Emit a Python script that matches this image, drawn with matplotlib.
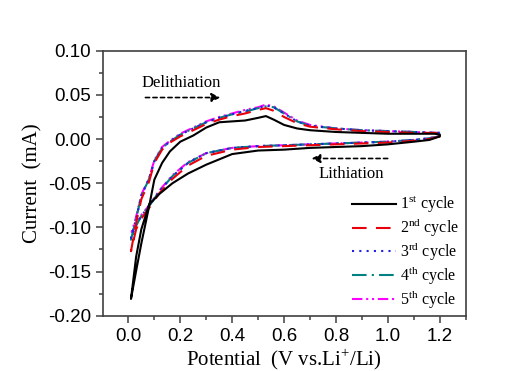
import matplotlib
matplotlib.use("Agg")
import matplotlib.pyplot as plt
from matplotlib.ticker import MultipleLocator

plt.rcParams['mathtext.fontset'] = 'custom'
plt.rcParams['mathtext.rm'] = 'Liberation Serif'

# potential grids (V), anodic sweep (up) and cathodic sweep (down)
v_up = [0.01, 0.03, 0.05, 0.08, 0.10, 0.13, 0.16, 0.20, 0.25, 0.30, 0.35, 0.40,
        0.45, 0.50, 0.53, 0.56, 0.60, 0.65, 0.70, 0.80, 0.90, 1.00, 1.10, 1.18, 1.20]
v_down = [1.20, 1.16, 1.10, 1.00, 0.90, 0.80, 0.70, 0.60, 0.50, 0.40, 0.30, 0.23,
          0.17, 0.12, 0.08, 0.05, 0.03, 0.01]

# currents (mA)
c1_up = [-0.181, -0.149, -0.118, -0.076, -0.046, -0.027, -0.014, -0.003, 0.004, 0.013,
         0.019, 0.020, 0.021, 0.024, 0.026, 0.022, 0.016, 0.012, 0.010, 0.008, 0.007,
         0.006, 0.006, 0.006, 0.005]
c1_down = [0.003, -0.001, -0.003, -0.006, -0.008, -0.009, -0.010, -0.012, -0.013, -0.017,
           -0.029, -0.039, -0.050, -0.062, -0.074, -0.102, -0.133, -0.181]

c2_up = [-0.127, -0.095, -0.068, -0.048, -0.027, -0.012, -0.004, 0.003, 0.010, 0.017,
         0.022, 0.026, 0.029, 0.033, 0.035, 0.032, 0.025, 0.018, 0.014, 0.011, 0.009,
         0.008, 0.007, 0.007, 0.006]
c2_down = [0.003, 0.000, -0.002, -0.004, -0.005, -0.006, -0.007, -0.008, -0.009, -0.012,
           -0.019, -0.030, -0.045, -0.061, -0.078, -0.090, -0.102, -0.127]

c3_up = [-0.112, -0.090, -0.064, -0.045, -0.025, -0.010, -0.003, 0.005, 0.012, 0.019,
         0.024, 0.028, 0.032, 0.035, 0.038, 0.036, 0.029, 0.020, 0.015, 0.012, 0.010,
         0.009, 0.008, 0.007, 0.007]
c3_down = [0.003, 0.001, -0.001, -0.003, -0.004, -0.005, -0.006, -0.007, -0.008, -0.010,
           -0.016, -0.027, -0.042, -0.059, -0.076, -0.087, -0.097, -0.112]

c4_up = [-0.114, -0.090, -0.064, -0.045, -0.025, -0.010, -0.003, 0.005, 0.012, 0.019,
         0.024, 0.028, 0.031, 0.035, 0.037, 0.036, 0.029, 0.020, 0.015, 0.012, 0.010,
         0.009, 0.008, 0.007, 0.007]
c4_down = [0.003, 0.001, -0.001, -0.003, -0.004, -0.005, -0.006, -0.007, -0.008, -0.010,
           -0.016, -0.027, -0.042, -0.059, -0.076, -0.087, -0.098, -0.114]

c5_up = [-0.108, -0.088, -0.063, -0.044, -0.024, -0.009, -0.002, 0.006, 0.013, 0.020,
         0.025, 0.029, 0.033, 0.036, 0.039, 0.037, 0.030, 0.021, 0.016, 0.012, 0.010,
         0.009, 0.008, 0.007, 0.007]
c5_down = [0.003, 0.001, -0.001, -0.003, -0.004, -0.005, -0.006, -0.007, -0.008, -0.010,
           -0.016, -0.026, -0.041, -0.058, -0.075, -0.086, -0.096, -0.108]

labels = [r'1$^{\mathrm{st}}$ cycle', r'2$^{\mathrm{nd}}$ cycle', r'3$^{\mathrm{rd}}$ cycle',
          r'4$^{\mathrm{th}}$ cycle', r'5$^{\mathrm{th}}$ cycle']
colors = ['black', '#e8000b', '#2020e0', '#008080', '#ff00ff']
styles = ['-', (0, (7, 4.5)), (0, (1, 2.5)), (0, (7, 2.5, 1, 2.5)), (0, (5, 1.8, 1, 1.8, 1, 1.8))]

ups = [c1_up, c2_up, c3_up, c4_up, c5_up]
downs = [c1_down, c2_down, c3_down, c4_down, c5_down]

fig = plt.figure(figsize=(5.28, 3.71), dpi=100)
ax = fig.add_axes([0.1945, 0.149, 0.6875, 0.7143])

# draw cycles 5 -> 1 so the first cycle sits on top, legend in normal order
lines = [None] * 5
for i in [4, 3, 2, 1, 0]:
    x = v_down + v_up
    y = downs[i] + ups[i]
    ln, = ax.plot(x, y, color=colors[i], linestyle=styles[i], lw=1.5, label=labels[i])
    lines[i] = ln

ax.set_xlim(-0.099, 1.30)
ax.set_ylim(-0.20, 0.10)
ax.xaxis.set_major_locator(MultipleLocator(0.2))
ax.xaxis.set_minor_locator(MultipleLocator(0.1))
ax.yaxis.set_major_locator(MultipleLocator(0.05))
ax.yaxis.set_minor_locator(MultipleLocator(0.025))
ax.xaxis.set_major_formatter(plt.FormatStrFormatter('%.1f'))
ax.yaxis.set_major_formatter(plt.FormatStrFormatter('%.2f'))

for s in ax.spines.values():
    s.set_color('#404040')
    s.set_linewidth(1.2)
ax.tick_params(which='both', direction='out', color='#404040', width=1.1,
               top=False, right=False)
ax.tick_params(which='major', length=5, labelsize=13.5)
ax.tick_params(axis='x', which='major', pad=4)
ax.tick_params(axis='y', which='major', pad=3.5)
ax.tick_params(which='minor', length=3)
for t in ax.get_xticklabels() + ax.get_yticklabels():
    t.set_family('Liberation Sans')

ax.set_xlabel('Potential  (V vs.Li$^{+}$/Li)', family='Liberation Serif', fontsize=15, labelpad=1)
ax.set_ylabel('Current  (mA)', family='Liberation Serif', fontsize=15, labelpad=4)

# sweep direction notes
ax.annotate('', xy=(0.365, 0.047), xytext=(0.055, 0.047),
            arrowprops=dict(arrowstyle='-|>', linestyle=(0, (2.5, 2)), color='black',
                            lw=1.2, mutation_scale=13))
ax.text(0.205, 0.064, 'Delithiation', family='Liberation Serif', fontsize=12,
        ha='center', va='center')
ax.annotate('', xy=(0.695, -0.022), xytext=(1.01, -0.022),
            arrowprops=dict(arrowstyle='-|>', linestyle=(0, (2.5, 2)), color='black',
                            lw=1.2, mutation_scale=13))
ax.text(0.86, -0.039, 'Lithiation', family='Liberation Serif', fontsize=12,
        ha='center', va='center')

ax.legend(handles=lines, loc='upper left', bbox_to_anchor=(0.686, 0.46), frameon=False,
          prop={'family': 'Liberation Serif', 'size': 11.5}, handlelength=2.8,
          handletextpad=0.2, labelspacing=0.08, borderpad=0, borderaxespad=0)

fig.savefig('out.png', dpi=100)
